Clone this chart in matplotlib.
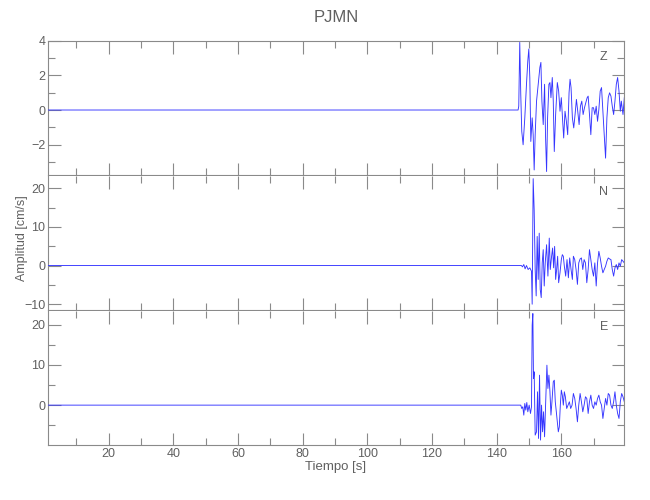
import numpy as np
import matplotlib
matplotlib.use("Agg")
import matplotlib.pyplot as plt
from matplotlib.ticker import MultipleLocator

plt.rcParams['font.family'] = ['Liberation Sans', 'DejaVu Sans']

# Estacion y componentes
estacion = "PJMN"
componentes = ["Z", "N", "E"]

# Componente Z (tiempo en s, amplitud en cm/s)
t_z = [1.2, 146.63, 146.84, 147.15, 147.46, 147.77, 148.19, 148.71, 149.23, 149.64,
       149.95, 150.26, 150.57, 150.99, 151.30, 151.61, 151.92, 152.34, 152.86, 153.37,
       153.69, 154.00, 154.41, 154.83, 155.14, 155.45, 155.76, 156.17, 156.49, 156.80,
       157.21, 157.52, 157.83, 158.25, 158.77, 159.18, 159.60, 160.01, 160.43, 160.74,
       161.15, 161.57, 161.98, 162.40, 162.71, 163.02, 163.43, 163.85, 164.26, 164.68,
       165.09, 165.51, 165.92, 166.34, 166.75, 167.17, 167.58, 168.00, 168.31, 168.72,
       169.14, 169.55, 169.97, 170.38, 170.80, 171.21, 171.62, 172.04, 172.45, 172.87,
       173.28, 173.70, 174.11, 174.53, 174.94, 175.36, 175.77, 176.19, 176.60, 177.02,
       177.43, 177.85, 178.26, 178.57, 179.09, 179.50]
a_z = [0.0, 0.0, 0.22, 3.89, 0.90, -1.23, -2.00, -0.45, 1.48, 2.83,
       3.51, 1.87, -1.81, -0.45, -1.42, -3.45, -1.42, 0.51, 1.48, 2.45,
       2.74, 0.51, -0.84, 1.48, -1.61, -3.54, -0.45, 1.48, 1.58, 0.71,
       1.87, 0.51, -2.39, -0.26, 1.58, 1.09, -0.07, 0.71, -0.65, -1.61,
       -0.07, -0.65, -1.42, 0.99, 1.77, 1.29, -0.45, -1.03, -0.26, 0.61,
       -0.07, -0.84, 0.22, 0.51, -0.26, 0.13, 0.42, 0.71, 0.80, -0.26,
       -1.42, 0.13, 0.13, -0.26, 0.22, -0.65, 0.03, 1.09, 1.29, -0.07,
       -1.42, -2.77, -0.45, 0.71, 0.99, 0.80, 0.22, -0.26, 0.51, 1.48,
       1.87, 1.09, -0.07, 0.51, -0.26, 0.71]

# Componente N
t_n = [1.2, 147.67, 147.98, 148.40, 148.81, 149.23, 149.74, 150.26, 150.78, 150.99,
       151.30, 151.61, 151.92, 152.23, 152.54, 152.86, 153.17, 153.48, 153.79, 154.10,
       154.41, 154.72, 155.03, 155.45, 155.86, 156.28, 156.59, 157.00, 157.31, 157.63,
       157.94, 158.25, 158.56, 158.87, 159.18, 159.60, 160.01, 160.32, 160.63, 160.94,
       161.36, 161.77, 162.19, 162.60, 163.02, 163.43, 163.74, 164.16, 164.57, 164.99,
       165.40, 165.82, 166.23, 166.65, 167.06, 167.48, 167.89, 168.31, 168.72, 169.14,
       169.55, 169.97, 170.38, 170.80, 171.21, 171.62, 172.04, 172.45, 172.87, 173.28,
       173.70, 174.11, 174.53, 174.94, 175.36, 175.77, 176.19, 176.60, 177.02, 177.43,
       177.85, 178.26, 178.68, 179.09, 179.50]
a_n = [0.0, 0.0, -0.34, 0.26, -0.85, 0.00, -1.02, -0.59, -1.45, -10.0,
       22.48, 14.36, -1.02, -7.86, 7.53, -3.59, 8.38, -6.15, -8.29, 0.69,
       4.11, -5.29, 0.69, 5.39, -2.73, 7.10, -1.02, 2.40, 4.53, -0.59,
       4.96, -3.59, -1.02, 2.40, -4.44, -1.88, 1.54, 2.82, 2.40, -0.17,
       -2.73, 1.54, -3.16, 1.97, -1.02, -3.59, 2.40, 1.54, -1.02, -4.87,
       0.69, 1.71, 1.97, -1.02, 1.54, 0.69, -4.44, -1.02, 4.11, 1.54,
       -1.02, -2.73, 0.69, -5.29, 0.69, 3.68, 1.97, -0.17, -1.88, -1.02,
       -0.17, 1.12, 1.97, 1.71, 1.54, -1.02, -2.73, -0.59, 0.26, -1.02,
       0.69, -0.17, 1.54, 1.12, 0.69]

# Componente E
t_e = [1.2, 147.15, 147.46, 147.77, 148.09, 148.40, 148.71, 149.02, 149.33, 149.64,
       150.06, 150.47, 150.78, 150.99, 151.20, 151.40, 151.61, 151.92, 152.34, 152.65,
       152.96, 153.27, 153.58, 153.89, 154.20, 154.51, 154.83, 155.14, 155.55, 155.86,
       156.17, 156.49, 156.80, 157.11, 157.52, 157.83, 158.14, 158.46, 158.77, 159.08,
       159.39, 159.70, 160.01, 160.32, 160.63, 160.94, 161.26, 161.67, 162.09, 162.50,
       162.91, 163.33, 163.74, 164.16, 164.57, 164.99, 165.40, 165.82, 166.23, 166.65,
       167.06, 167.48, 167.89, 168.31, 168.72, 169.14, 169.55, 169.97, 170.38, 170.80,
       171.21, 171.62, 172.04, 172.45, 172.87, 173.28, 173.70, 174.11, 174.53, 174.94,
       175.36, 175.77, 176.19, 176.60, 177.02, 177.43, 177.85, 178.26, 178.68, 179.09,
       179.50]
a_e = [0.0, 0.0, 0.0, -0.83, -0.41, -2.48, 0.41, -1.24, 0.66, -1.65,
       0.0, -2.07, -0.41, 19.85, 22.74, 6.62, 8.27, -7.44, -6.62, 3.31,
       -8.27, 7.44, -8.68, 0.0, -6.62, -1.65, -7.86, 0.0, 9.92, 4.14,
       7.44, 3.31, -2.48, 0.83, 5.79, 6.20, 0.83, -1.65, -4.14, -6.62,
       -5.38, 0.0, 3.72, 2.48, 0.0, 3.31, 2.07, -0.83, 0.0, 0.83,
       -0.83, 0.0, 2.89, 1.65, -0.83, -4.14, 0.0, 2.89, 0.83, -1.65,
       0.0, 2.07, 1.65, -2.07, 0.83, 2.48, 0.0, -0.83, 0.83, 0.0,
       1.65, 2.48, 0.83, 0.0, -3.31, -0.83, 1.65, 0.0, 2.89, 2.48,
       0.0, -0.83, 0.83, 3.31, 0.0, -2.07, -3.31, 0.83, 2.89, 2.07,
       0.83]

tiempos = [t_z, t_n, t_e]
amplitudes = [a_z, a_n, a_e]
limites_y = [(-3.74, 4.0), (-11.5, 23.3), (-9.9, 23.5)]
paso_mayor = [2, 10, 10]
paso_menor = [1, 5, 5]

gris = '#8a8a8a'
texto = '#606060'

fig = plt.figure(figsize=(6.5, 5), dpi=100)
izq, ancho, alto = 48 / 650, 576 / 650, 0.269
bases = [1 - 175 / 500, 1 - 310 / 500, 1 - 445 / 500]

for k in range(3):
    ax = fig.add_axes([izq, bases[k], ancho, alto])
    ax.plot(tiempos[k], amplitudes[k], color='#3535ff', lw=0.65, zorder=3)
    ax.set_xlim(1.2, 179.4)
    ax.set_ylim(*limites_y[k])
    ax.xaxis.set_major_locator(MultipleLocator(20))
    ax.xaxis.set_minor_locator(MultipleLocator(10))
    ax.yaxis.set_major_locator(MultipleLocator(paso_mayor[k]))
    ax.yaxis.set_minor_locator(MultipleLocator(paso_menor[k]))
    ax.tick_params(which='both', direction='in', top=True, right=True,
                   colors=gris, labelcolor=texto, labelsize=9, width=0.8, pad=2)
    ax.tick_params(which='major', length=9)
    ax.tick_params(which='minor', length=5)
    for s in ax.spines.values():
        s.set_color(gris)
        s.set_linewidth(0.8)
    if k > 0:
        ax.spines['top'].set_visible(False)
    if k < 2:
        ax.tick_params(labelbottom=False)
    ax.text(0.965, 0.88, componentes[k], transform=ax.transAxes,
            color=texto, fontsize=9, ha='center', va='center')

fig.text(336 / 650, 1 - 18 / 500, estacion, ha='center', va='center',
         fontsize=12, color=texto)
fig.text(336 / 650, 1 - 467 / 500, "Tiempo [s]", ha='center', va='center',
         fontsize=9.5, color=texto)
fig.text(22 / 650, 1 - 238 / 500, "Amplitud [cm/s]", ha='center', va='center',
         rotation=90, fontsize=9, color=texto)

fig.savefig("out.png", dpi=100)
